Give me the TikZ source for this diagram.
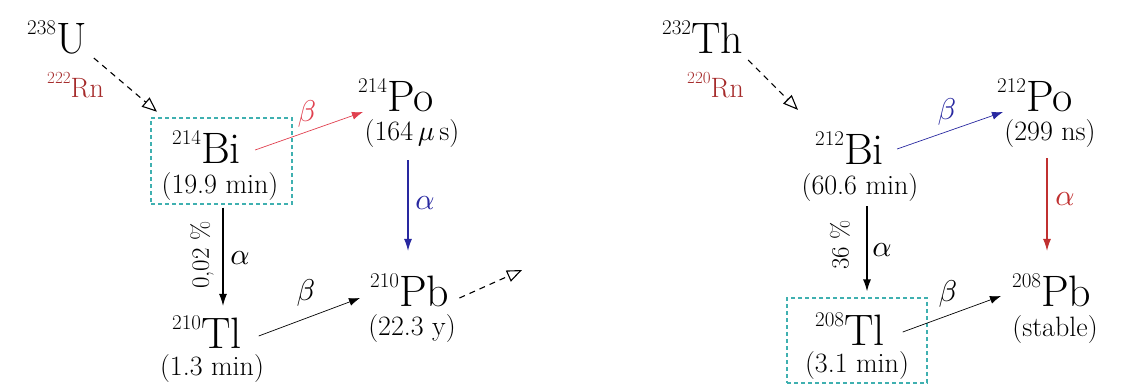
\documentclass[tikz,border=0pt]{standalone}
\usepackage{fontspec}
\setmainfont{Latin Modern Roman}
\DeclareFontFamily{OML}{cmm}{\skewchar\font'177}
\DeclareFontShape{OML}{cmm}{m}{it}{<->cmmi10}{}
\usetikzlibrary{arrows.meta,calc}
\definecolor{boxcyan}{HTML}{3FB0B0}
\definecolor{betared}{HTML}{E0404F}
\definecolor{alphared}{HTML}{C03030}
\definecolor{decblue}{HTML}{2828A0}
\definecolor{rnred}{HTML}{A52A2A}
\newcommand\nucl[2]{\raisebox{19pt}{\fontsize{21}{21}\selectfont #1}#2}
\newcommand\nucs[2]{\raisebox{14pt}{\fontsize{17}{17}\selectfont #1}{\fontsize{28}{28}\selectfont #2}}
\tikzset{
  el/.style={inner sep=0pt, anchor=base west, font=\fontsize{44}{48}\selectfont},
  rn/.style={inner sep=0pt, anchor=base west, text=rnred},
  hl/.style={inner sep=0pt, anchor=base, font=\fontsize{28}{30}\selectfont},
  gk/.style={inner sep=0pt, font=\fontsize{30}{32}\selectfont},
  pct/.style={inner sep=0pt, rotate=90, font=\fontsize{25}{27}\selectfont},
  halfbox/.style={draw=boxcyan, line width=1.2pt, dash pattern=on 4pt off 3pt, inner sep=0pt},
  chain/.style={dash pattern=on 6pt off 5pt, line width=1.1pt, -{Triangle[open,length=15pt,width=12pt]}},
  alph/.style={line width=1.2pt, -{Latex[length=12pt,width=8pt]}},
  bet/.style={line width=0.7pt, -{Latex[length=11pt,width=8pt]}}
}
\begin{document}
\begin{tikzpicture}[x=1pt,y=-1pt]
\useasboundingbox (0,0) rectangle (1121,389);
% ---------------- left chain (238U) ----------------
\node[el] (u238) at (27,53) {\nucl{238}{U}};
\node[rn] (rn222) at (47,97) {\nucs{222}{Rn}};
\node[halfbox, minimum width=141pt, minimum height=86pt] (bibox) at (221.5,161) {};
\node[el] (bi214) at (172,163) {\nucl{214}{Bi}};
\node[hl] (bi214t) at (220,193) {(19.9 min)};
\node[el] (po214) at (358,111) {\nucl{214}{Po}};
\node[hl] (po214t) at (412,140) {(164\,$\mu$\,s)};
\node[el] (tl210) at (172,348) {\nucl{210}{Tl}};
\node[hl] (tl210t) at (212,375) {(1.3 min)};
\node[el] (pb210) at (370,306) {\nucl{210}{Pb}};
\node[hl] (pb210t) at (412,335) {(22.3 y)};
\coordinate (pbout) at (522,270);

\draw[chain] ($(u238.base east)+(7,5)$) -- ($(bi214.north west)+(-15,-18)$);
\draw[bet, betared] ($(bi214.base east)+(14,-13)$) -- ($(po214.base west)+(5,1)$);
\node[gk, text=betared] (lb1) at (307,114) {$\beta$};
\draw[alph, decblue] ($(po214t.base)+(-4,20)$) -- ($(pb210.north -| po214t.base)+(-4,-22)$);
\node[gk, text=decblue] (la1) at (425,203) {$\alpha$};
\draw[alph] ($(bibox.south)+(1.5,3)$) -- ($(tl210.north -| bibox.south)+(1.5,-9)$);
\node[gk] (la2) at (240,258) {$\alpha$};
\node[pct] (pc1) at (202,255) {0,02 \%};
\draw[bet] ($(tl210.base east)+(17,-12)$) -- ($(pb210.base west)+(-10,-8)$);
\node[gk] (lb2) at (306,293) {$\beta$};
\draw[chain] ($(pb210.base east)+(10,-8)$) -- (pbout);

% ---------------- right chain (232Th) ----------------
\node[el] (th232) at (662,53) {\nucl{232}{Th}};
\node[rn] (rn220) at (687,97) {\nucs{220}{Rn}};
\node[el] (bi212) at (815,164) {\nucl{212}{Bi}};
\node[hl] (bi212t) at (860,194) {(60.6 min)};
\node[el] (po212) at (997,111) {\nucl{212}{Po}};
\node[hl] (po212t) at (1050,140) {(299 ns)};
\node[halfbox, minimum width=140pt, minimum height=85pt] (tlbox) at (857,340.5) {};
\node[el] (tl208) at (815,345) {\nucl{208}{Tl}};
\node[hl] (tl208t) at (857,372) {(3.1 min)};
\node[el] (pb208) at (1012,306) {\nucl{208}{Pb}};
\node[hl] (pb208t) at (1055,336) {(stable)};

\draw[chain] ($(th232.base east)+(5,7)$) -- ($(bi212.north west)+(-17,-21)$);
\draw[bet, decblue] ($(bi212.base east)+(13,-15)$) -- ($(po212.base west)+(6,1)$);
\node[gk, text=decblue] (rb1) at (947,112) {$\beta$};
\draw[alph, alphared] ($(po212t.base)+(-3,18)$) -- ($(pb208.north -| po212t.base)+(-3,-22)$);
\node[gk, text=alphared] (ra1) at (1065,199) {$\alpha$};
\draw[alph] ($(bi212t.base)+(7,12)$) -- ($(tlbox.north -| bi212t.base)+(7,-6)$);
\node[gk] (ra2) at (882,250) {$\alpha$};
\node[pct] (pc2) at (840,245) {36 \%};
\draw[bet] ($(tl208.base east)+(18,-13)$) -- ($(pb208.base west)+(-11,-10)$);
\node[gk] (rb2) at (948,294) {$\beta$};
\end{tikzpicture}
\end{document}
